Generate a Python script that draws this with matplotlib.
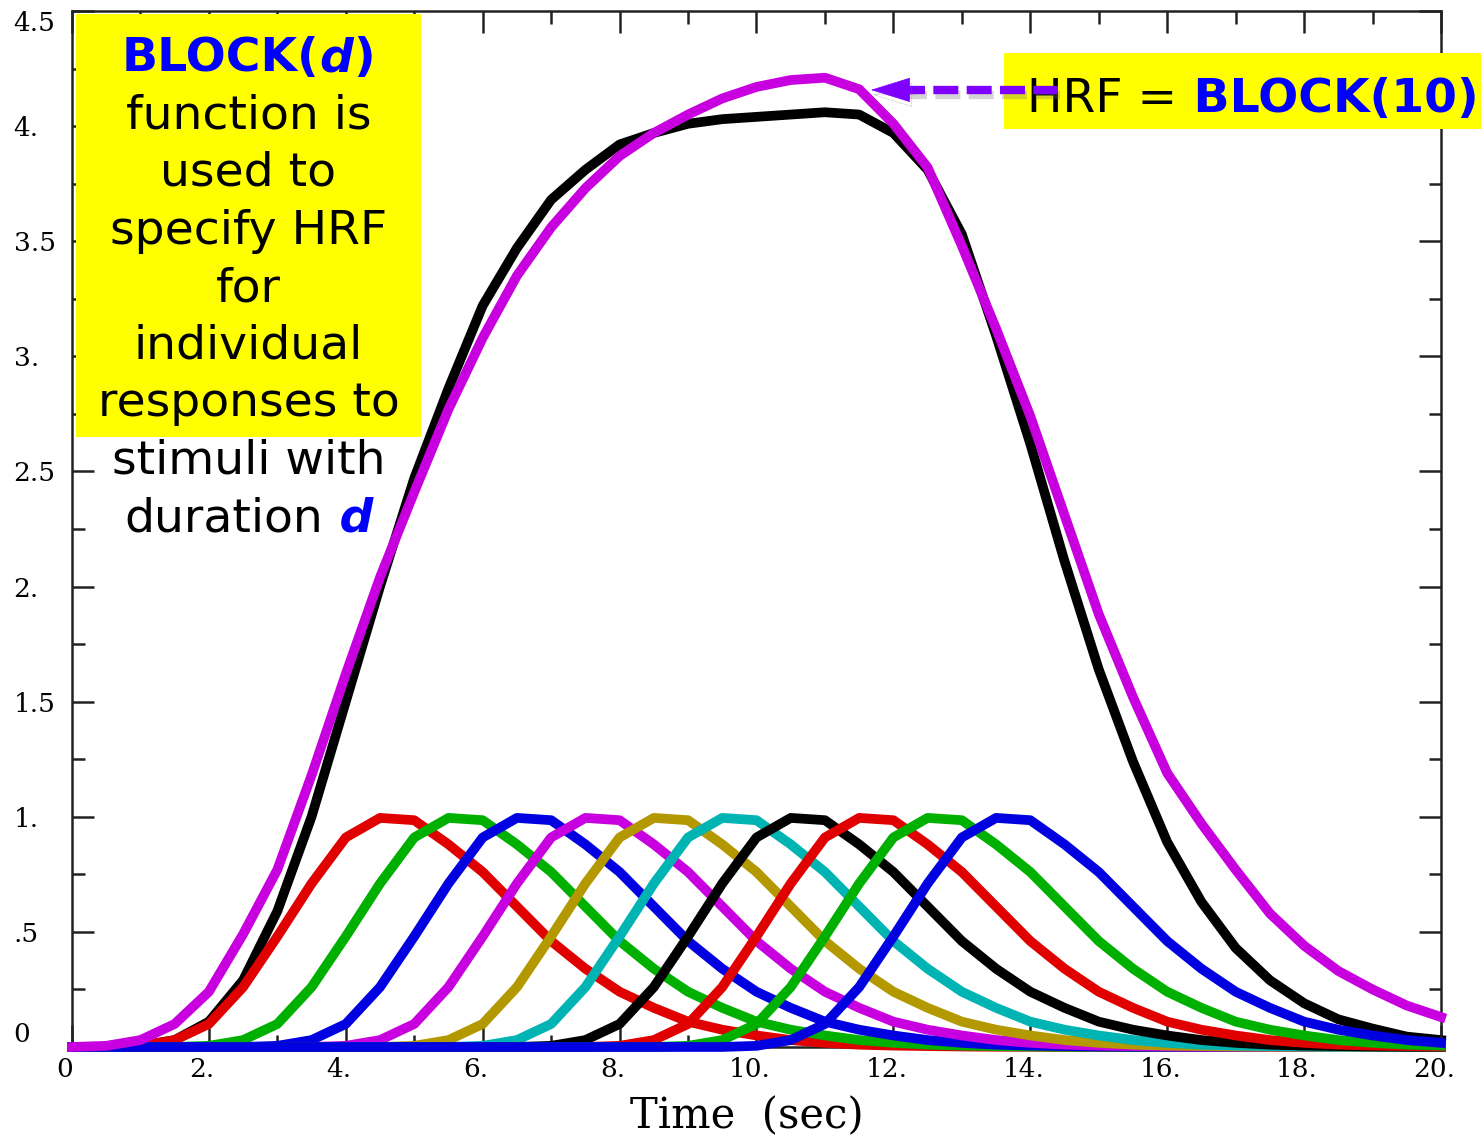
import numpy as np
import matplotlib
matplotlib.use('Agg')
import matplotlib.pyplot as plt
from matplotlib.patches import Rectangle, FancyArrowPatch
from matplotlib.lines import Line2D
from matplotlib.transforms import ScaledTranslation
import matplotlib.patheffects as pe

plt.rcParams['font.family'] = 'DejaVu Serif'

# sample times (sec), 0.5 s grid
t = np.arange(0, 20.5, 0.5)

# response to one 1-sec stimulus, relative to its onset (same grid)
unit_resp = [0.0, 0.0, 0.005, 0.03, 0.10, 0.26, 0.48, 0.71, 0.91, 0.995,
             0.985, 0.88, 0.76, 0.61, 0.46, 0.34, 0.24, 0.17, 0.11, 0.075,
             0.05, 0.03, 0.018, 0.01, 0.006, 0.004, 0.002, 0.001, 0.001, 0.0,
             0.0, 0.0, 0.0, 0.0, 0.0, 0.0, 0.0, 0.0, 0.0, 0.0, 0.0]
onsets = [0, 1, 2, 3, 4, 5, 6, 7, 8, 9]
unit_colors = ['#e00000', '#00b000', '#0000e0', '#c800e0', '#b39800',
               '#00b4b4', '#000000', '#e00000', '#00b000', '#0000e0']

# sum of the ten individual responses
sum_resp = [0.0, 0.0, 0.005, 0.03, 0.11, 0.29, 0.59, 1.0, 1.50, 2.0,
            2.47, 2.86, 3.22, 3.47, 3.68, 3.81, 3.92, 3.97, 4.01, 4.03,
            4.04, 4.05, 4.06, 4.05, 3.97, 3.81, 3.53, 3.09, 2.62, 2.11,
            1.64, 1.24, 0.89, 0.63, 0.43, 0.29, 0.19, 0.12, 0.08, 0.045, 0.03]

# BLOCK(10) response
block10 = [0.0, 0.005, 0.03, 0.10, 0.24, 0.49, 0.77, 1.18, 1.62, 2.04,
           2.41, 2.77, 3.08, 3.35, 3.56, 3.73, 3.87, 3.97, 4.05, 4.12,
           4.17, 4.20, 4.21, 4.16, 4.01, 3.82, 3.48, 3.12, 2.74, 2.31,
           1.88, 1.52, 1.19, 0.97, 0.77, 0.58, 0.44, 0.33, 0.25, 0.18, 0.13]

xtick_vals = [0, 2, 4, 6, 8, 10, 12, 14, 16, 18, 20]
xtick_labels = ['0', '2.', '4.', '6.', '8.', '10.', '12.', '14.', '16.', '18.', '20.']
ytick_vals = [0, 0.5, 1, 1.5, 2, 2.5, 3, 3.5, 4, 4.5]
ytick_labels = ['0', '.5', '1.', '1.5', '2.', '2.5', '3.', '3.5', '4.', '4.5']

box_lines = ['function is', 'used to', 'specify HRF', 'for', 'individual',
             'responses to', 'stimuli with']

fig = plt.figure(figsize=(14.81, 11.41), dpi=100)
ax = fig.add_axes([0.0486, 0.0824, 0.9244, 0.908])

LW = 7
for k, c in zip(onsets, unit_colors):
    n = 2 * k
    y = np.concatenate([np.zeros(n), np.array(unit_resp)[:len(t) - n]])
    ax.plot(t, y, color=c, lw=LW, clip_on=False, zorder=3)
ax.plot(t, sum_resp, color='k', lw=LW, clip_on=False, zorder=2)
ax.plot(t, block10, color='#c800e0', lw=LW, clip_on=False, zorder=4)

ax.set_xlim(0, 20)
ax.set_ylim(0, 4.5)
ax.set_xticks(xtick_vals)
ax.set_xticklabels(xtick_labels)
ax.set_xticks(np.arange(0, 21, 1), minor=True)
ax.set_yticks(ytick_vals)
ax.set_yticklabels(ytick_labels, ha='left')
ax.set_yticks(np.arange(0, 4.51, 0.25), minor=True)
ax.tick_params(which='both', direction='in', top=True, right=True,
               width=1.8, color='#222222', labelsize=19)
ax.tick_params(which='major', length=16)
ax.tick_params(which='minor', length=9)
ax.tick_params(axis='y', pad=42)
ax.tick_params(axis='x', pad=7)
ylabs = ax.get_yticklabels()
ylabs[0].set_va('bottom')
ylabs[-1].set_va('top')
shift = ScaledTranslation(-7 / 100, 0, fig.dpi_scale_trans)
for lab in ax.get_xticklabels():
    lab.set_transform(lab.get_transform() + shift)
for s in ax.spines.values():
    s.set_linewidth(1.8)
    s.set_color('#222222')
ax.set_xlabel('Time  (sec)', fontsize=30, va='top')
ax.xaxis.set_label_coords(0.493, -0.047)

# yellow note boxes
fig.add_artist(Rectangle((0.0513, 0.617), 0.233, 0.3707, transform=fig.transFigure,
                         facecolor='#ffff00', edgecolor='none', zorder=1))
fig.add_artist(Rectangle((0.678, 0.8869), 0.33, 0.0666, transform=fig.transFigure,
                         facecolor='#ffff00', edgecolor='none', zorder=1))

FS = 34
SANS = 'DejaVu Sans'
renderer = fig.canvas.get_renderer()
W = fig.bbox.width


def put_pieces(pieces, x, y, center=True):
    items = [fig.text(0, y, s, fontsize=FS, family=SANS, va='baseline', ha='left', **kw)
             for s, kw in pieces]
    widths = [it.get_window_extent(renderer).width for it in items]
    pos = x * W - (sum(widths) / 2 if center else 0)
    for it, w in zip(items, widths):
        it.set_x(pos / W)
        pos += w


blue_b = dict(color='#0000ff', weight='bold')
blue_bi = dict(color='#0000ff', weight='bold', style='italic')
xc = 248.5 / 1481
base0 = 71
pitch = 57.5
put_pieces([('BLOCK(', blue_b), ('d', blue_bi), (')', blue_b)], xc, 1 - base0 / 1141)
for i, s in enumerate(box_lines):
    fig.text(xc, 1 - (base0 + pitch * (i + 1)) / 1141, s, fontsize=FS, family=SANS,
             ha='center', va='baseline', color='k')
put_pieces([('duration', dict(color='k')), (' d', blue_bi)], xc,
           1 - (base0 + pitch * 8) / 1141)

put_pieces([('HRF =', dict(color='k')), (' BLOCK(10)', blue_b)], 1027 / 1481,
           1 - 112 / 1141, center=False)

# dashed pointer to the BLOCK(10) peak
shadow = [pe.SimpleLineShadow(offset=(1.5, -3.5), shadow_color='0.45', alpha=0.3), pe.Normal()]
fig.add_artist(Line2D([12.1, 14.4], [4.157, 4.157], transform=ax.transData,
                      color='#7f00ff', lw=6, dashes=(3.0, 1.0),
                      dash_capstyle='butt', path_effects=shadow, zorder=4))
fig.add_artist(FancyArrowPatch((12.35, 4.157), (11.63, 4.157), transform=ax.transData,
                               arrowstyle='-|>,head_length=1.35,head_width=0.42',
                               mutation_scale=20, color='#7f00ff', lw=0.5,
                               path_effects=shadow, zorder=4))

fig.savefig('out.png', dpi=100)
